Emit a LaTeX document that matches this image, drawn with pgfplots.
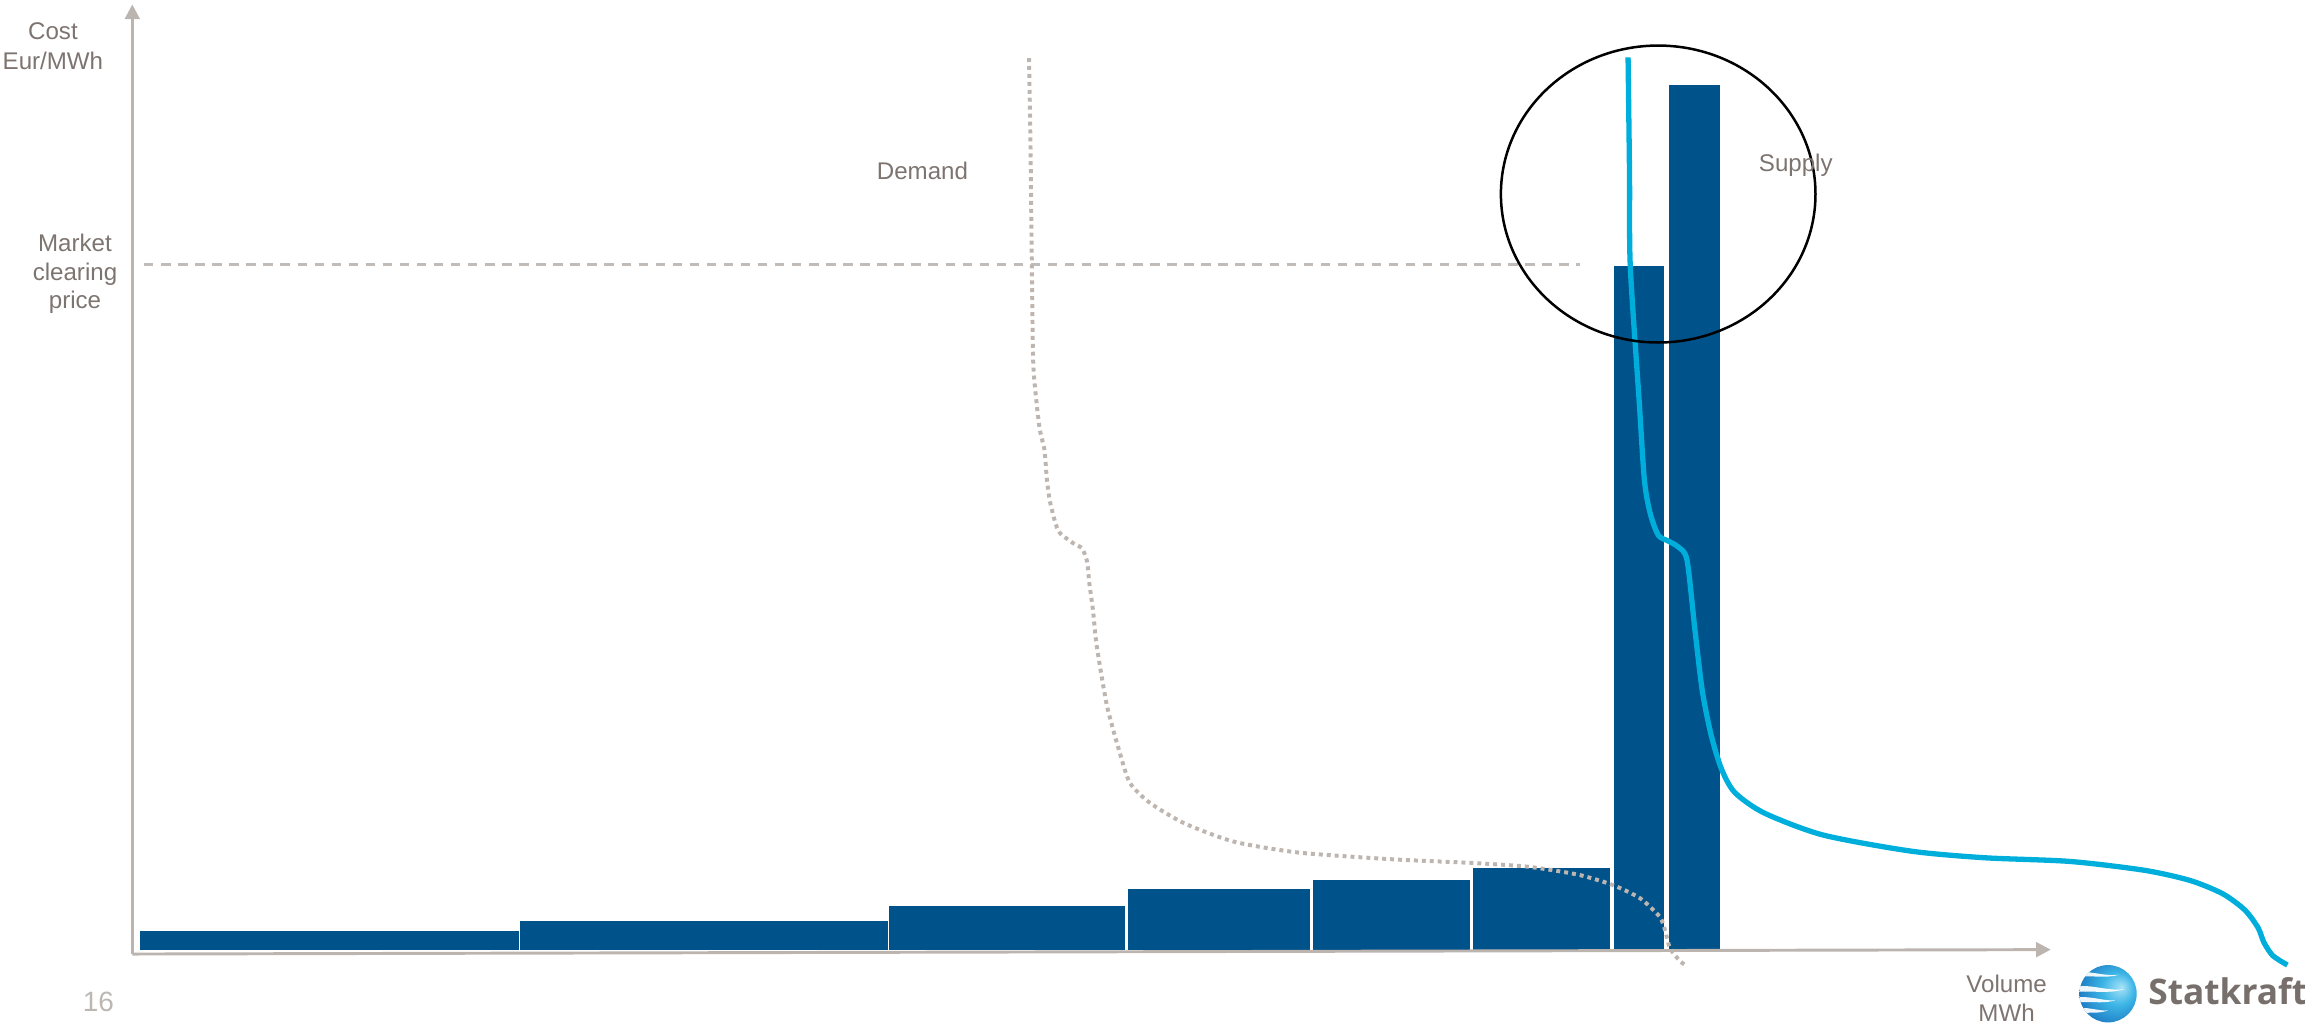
\documentclass[border=0pt]{standalone}
\usepackage{fontspec}
\setmainfont{Liberation Sans}
\newfontfamily\logofont{Open Sans}
\usepackage{pgfplots}
\pgfplotsset{compat=1.18}
\usetikzlibrary{arrows.meta}

\definecolor{axisgray}{HTML}{BCB4AF}
\definecolor{labelgray}{HTML}{7D7470}
\definecolor{pagegray}{HTML}{BDB7B3}
\definecolor{barblue}{HTML}{00528A}
\definecolor{supplycyan}{HTML}{00AEDB}
\definecolor{demandgray}{HTML}{BDB5B0}
\definecolor{clearinggray}{HTML}{C2BCB8}
\definecolor{logotext}{HTML}{776F6B}
\definecolor{globeA}{HTML}{A8E2F7}
\definecolor{globeB}{HTML}{3DB6E6}
\definecolor{globeC}{HTML}{1770BD}

\pgfdeclareradialshading{globeshade}{\pgfpoint{12bp}{6bp}}{%
  color(0bp)=(globeA); color(14bp)=(globeB); color(34bp)=(globeC); color(50bp)=(globeC)}

\newcommand\lab{\fontsize{8.2}{9.8}\selectfont}
% one supply block: left edge, right edge, cost level
\newcommand\supplybar[3]{%
  \addplot[fill=barblue, draw=none] coordinates {(#1,50) (#1,#3) (#2,#3) (#2,50)} --cycle;}

\begin{document}
\begin{tikzpicture}
\path[use as bounding box] (0,0) rectangle (784pt,348pt);
\begin{axis}[
  at={(0,0)}, anchor=south west,
  scale only axis, width=784pt, height=348pt,
  xmin=0, xmax=1568, ymin=0, ymax=696,
  hide axis, clip=false]

% market clearing price
\addplot[clearinggray, line width=0.8pt, dash pattern=on 3.2pt off 2.6pt]
  coordinates {(98,516) (1075,516)};

% supply blocks (merit order)
\supplybar{95}{353}{63}
\supplybar{354}{604}{69.3}
\supplybar{605}{765}{80}
\supplybar{767}{891}{91}
\supplybar{893}{1000}{97.4}
\supplybar{1002}{1095}{105.4}
\supplybar{1098}{1132}{515}
\supplybar{1135}{1170}{638.2}

% axes
\addplot[axisgray, line width=1pt, -{Triangle[width=5pt,length=5pt]}]
  coordinates {(90,47) (90,693)};
\addplot[axisgray, line width=1pt, -{Triangle[width=5pt,length=5pt]}]
  coordinates {(90,47) (1395,50)};

% demand curve
\addplot[demandgray, line width=1.35pt, dash pattern=on 1.35pt off 1.35pt,
  smooth, tension=0.4] coordinates {
  (700,656.5) (701,596) (702,509) (703,446) (707,406) (710.5,390)
  (712,371.5) (714,356) (717.7,341) (721,333.4) (730,326.5) (736,323)
  (739.5,314) (741,299.3) (743.5,281) (746,257) (753,216) (762,183)
  (768.7,163.3) (782,150) (805.5,136) (839.5,123.4) (883.7,116)
  (948,111.4) (1000.7,109) (1039.5,106.4) (1073.5,101) (1097,94)
  (1115.6,85) (1129,72.4) (1132.6,63.3) (1136,51) (1143,42) (1147.6,39)};

% supply curve
\addplot[supplycyan, line width=1.8pt, smooth, tension=0.45] coordinates {
  (1107.5,657) (1108.5,576) (1109,515) (1115,424) (1118.6,369.5)
  (1122.5,347) (1128,332) (1134.7,328) (1141.5,324) (1147.6,315)
  (1153,267.4) (1158,226) (1164,196) (1171,173) (1180,157) (1200,143)
  (1240,128) (1300,117) (1350,112.5) (1408,110) (1458.6,104)
  (1490,97) (1512,88) (1527,77) (1536,65) (1540,55) (1546,46)
  (1556,39.5)};

% highlight ring
\draw[black, line width=0.85pt] (axis cs:1128,564) ellipse [x radius=53.5pt, y radius=50.5pt];

% labels
\node[anchor=base, text=labelgray, font=\lab] at (axis cs:36,669) {Cost};
\node[anchor=base, text=labelgray, font=\lab] at (axis cs:36,649) {Eur/MWh};
\node[anchor=base, text=labelgray, font=\lab] at (axis cs:51,524.7) {Market};
\node[anchor=base, text=labelgray, font=\lab] at (axis cs:51,505.2) {clearing};
\node[anchor=base, text=labelgray, font=\lab] at (axis cs:51,486) {price};
\node[anchor=base, text=labelgray, font=\lab] at (axis cs:627.5,574) {Demand};
\node[anchor=base, text=labelgray, font=\lab] at (axis cs:1221.6,579) {Supply};
\node[anchor=base, text=labelgray, font=\lab] at (axis cs:1365,21) {Volume};
\node[anchor=base, text=labelgray, font=\lab] at (axis cs:1365,1) {MWh};
\node[anchor=base, text=pagegray, font=\fontsize{9.5}{11}\selectfont] at (axis cs:67,8) {16};
\node[anchor=base west, inner sep=0pt, text=logotext,
  font=\fontsize{12}{14}\selectfont\logofont\bfseries] at (axis cs:1461,13) {Statkraft};

\coordinate (globe) at (axis cs:1434,20);
\end{axis}

% Statkraft globe
\begin{scope}[shift={(globe)}, x=9.75pt, y=9.75pt]
  \shade[shading=globeshade] (0,0) circle (1);
  \begin{scope}
    \clip (0,0) circle (1);
    \fill[white, opacity=0.92] (-1.1,0.76) .. controls (-0.6,0.80) and (-0.1,0.60) .. (0.38,0.66)
      .. controls (-0.1,0.52) and (-0.6,0.66) .. (-1.1,0.58) -- cycle;
    \fill[white, opacity=0.92] (-1.1,0.26) .. controls (-0.5,0.32) and (0,0.08) .. (0.57,0.16)
      .. controls (0,-0.02) and (-0.5,0.12) .. (-1.1,0.06) -- cycle;
    \fill[white, opacity=0.92] (-1.1,-0.12) .. controls (-0.5,-0.08) and (-0.1,-0.28) .. (0.26,-0.22)
      .. controls (-0.1,-0.36) and (-0.5,-0.26) .. (-1.1,-0.30) -- cycle;
    \fill[white, opacity=0.92] (-1.1,-0.50) .. controls (-0.6,-0.46) and (-0.3,-0.62) .. (0.0,-0.58)
      .. controls (-0.3,-0.70) and (-0.6,-0.64) .. (-1.1,-0.68) -- cycle;
  \end{scope}
\end{scope}
\end{tikzpicture}
\end{document}
